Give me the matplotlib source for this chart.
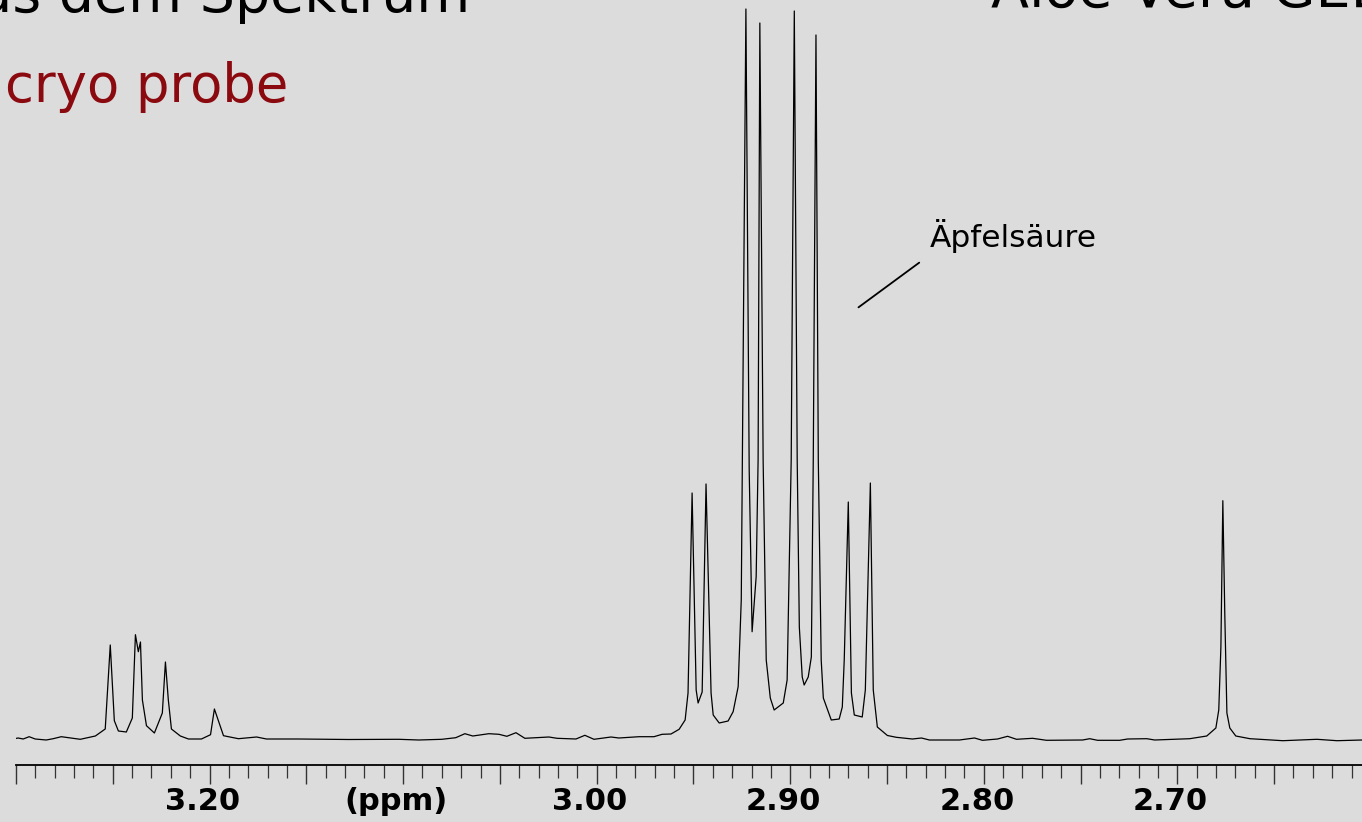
"""
1H NMR spectrum of Aloe Vera gel (cryo probe), detail 2.6 - 3.3 ppm.
"""

import matplotlib
matplotlib.use("Agg")
import matplotlib.pyplot as plt
from matplotlib.transforms import ScaledTranslation

# Spectrum trace (chemical shift in ppm, intensity in arbitrary units)
shift_ppm = [
    3.3015, 3.2989, 3.2963, 3.2932, 3.2901, 3.2844, 3.2808, 3.2766, 3.2668, 3.2590,
    3.2539, 3.2513, 3.2492, 3.2471, 3.2430, 3.2399, 3.2383, 3.2368, 3.2357, 3.2347,
    3.2326, 3.2285, 3.2244, 3.2228, 3.2213, 3.2197, 3.2151, 3.2109, 3.2042, 3.1995,
    3.1975, 3.1928, 3.1851, 3.1757, 3.1706, 3.1540, 3.1281, 3.1023, 3.0919, 3.0800,
    3.0728, 3.0681, 3.0640, 3.0557, 3.0505, 3.0464, 3.0417, 3.0371, 3.0247, 3.0205,
    3.0107, 3.0061, 3.0014, 2.9926, 2.9885, 2.9781, 2.9704, 2.9662, 2.9616, 2.9574,
    2.9543, 2.9528, 2.9507, 2.9486, 2.9476, 2.9455, 2.9435, 2.9409, 2.9398, 2.9367,
    2.9321, 2.9295, 2.9269, 2.9253, 2.9229, 2.9212, 2.9197, 2.9176, 2.9166, 2.9157,
    2.9140, 2.9124, 2.9103, 2.9083, 2.9036, 2.9016, 2.8995, 2.8979, 2.8964, 2.8953,
    2.8938, 2.8928, 2.8907, 2.8891, 2.8881, 2.8867, 2.8855, 2.8840, 2.8829, 2.8788,
    2.8747, 2.8731, 2.8721, 2.8700, 2.8684, 2.8669, 2.8628, 2.8612, 2.8586, 2.8571,
    2.8550, 2.8498, 2.8452, 2.8369, 2.8322, 2.8281, 2.8126, 2.8048, 2.8007, 2.7929,
    2.7877, 2.7831, 2.7748, 2.7676, 2.7489, 2.7453, 2.7412, 2.7298, 2.7257, 2.7158,
    2.7117, 2.6936, 2.6848, 2.6801, 2.6786, 2.6775, 2.6765, 2.6755, 2.6744, 2.6729,
    2.6698, 2.6625, 2.6455, 2.6279, 2.6175, 2.6046,
]
intensity = [
    1.0, 2.0, 1.0, 3.3, 1.0, 0.0, 1.3, 3.3, 0.7, 4.0,
    11.0, 95.0, 19.3, 9.0, 8.0, 22.0, 105.3, 88.3, 98.0, 40.0,
    14.3, 7.0, 27.0, 78.0, 40.0, 11.0, 4.0, 1.0, 1.0, 5.3,
    31.0, 4.3, 1.3, 3.0, 1.0, 1.0, 0.5, 0.7, 0.0, 0.7,
    2.3, 6.3, 4.0, 6.3, 5.7, 3.7, 7.3, 1.7, 3.0, 1.7,
    1.0, 4.7, 0.7, 3.0, 2.0, 3.3, 3.3, 5.7, 6.0, 10.7,
    20.0, 47.0, 247.0, 50.0, 37.0, 48.0, 256.0, 47.0, 25.0, 17.0,
    19.0, 28.3, 53.3, 140.0, 731.0, 270.0, 108.3, 163.3, 280.0, 717.0,
    280.0, 80.0, 42.0, 30.0, 37.0, 60.0, 280.0, 729.0, 280.0, 113.0,
    63.0, 55.0, 63.0, 83.0, 280.0, 705.0, 280.0, 80.0, 42.0, 20.0,
    21.0, 33.0, 80.0, 238.0, 47.0, 25.0, 23.0, 50.0, 257.0, 50.0,
    13.0, 4.5, 2.7, 1.0, 2.0, 0.0, 0.0, 2.0, -0.3, 1.0,
    3.7, 0.7, 1.7, -0.3, 0.0, 1.3, -0.3, -0.3, 1.0, 1.3,
    0.0, 1.3, 4.0, 12.0, 30.0, 93.0, 239.3, 127.0, 27.0, 12.0,
    4.0, 1.3, -0.7, 0.7, -0.7, 0.0,
]

# Axis ticks
major_ticks = [3.30, 3.25, 3.20, 3.15, 3.10, 3.05, 3.00, 2.95,
               2.90, 2.85, 2.80, 2.75, 2.70, 2.65]
major_labels = ["", "", "3.20", "", "(ppm)", "", "3.00", "",
                "2.90", "", "2.80", "", "2.70", ""]
minor_ticks = [round(3.30 - 0.01 * i, 2) for i in range(70)]

BG = "#dcdcdc"
W, H = 1362, 822


def fx(px):
    return px / W


def fy(py):
    return 1 - py / H


fig = plt.figure(figsize=(W / 100, H / 100), dpi=100, facecolor=BG)
ax = fig.add_axes([fx(16), fy(765), 1 - fx(16), 765 / H])
ax.set_facecolor(BG)

ax.plot(shift_ppm, intensity, color="black", linewidth=0.9)

ax.set_xlim(3.30, 2.6046)
ax.set_ylim(-25, 740)

# Only the bottom axis line is shown
for side in ["top", "left", "right"]:
    ax.spines[side].set_visible(False)
ax.spines["bottom"].set_linewidth(1.3)
ax.set_yticks([])

ax.set_xticks(major_ticks)
ax.set_xticklabels(major_labels, fontsize=22, fontweight="bold")
ax.set_xticks(minor_ticks, minor=True)
ax.tick_params(axis="x", which="major", direction="out", length=14,
               width=1.0, color="#333333", pad=2)
ax.tick_params(axis="x", which="minor", direction="out", length=9,
               width=0.9, color="#333333")
shift = ScaledTranslation(-7 / 100, 0, fig.dpi_scale_trans)
for lbl in ax.get_xticklabels():
    lbl.set_transform(lbl.get_transform() + shift)

# Annotation for malic acid
ax.annotate("", xy=(2.8659, 431), xytext=(2.8322, 479),
            arrowprops=dict(arrowstyle="-", color="black", lw=1.3))
fig.text(fx(930), fy(247), "Äpfelsäure", fontsize=22.5, color="black",
         va="baseline", ha="left")

# Slide texts (partly cut at the figure edge)
fig.text(fx(470), fy(12), "Informationen aus dem Spektrum", fontsize=40,
         color="black", va="baseline", ha="right")
fig.text(fx(991), fy(7), "Aloe Vera GEL", fontsize=40,
         color="black", va="baseline", ha="left")
fig.text(fx(5), fy(102), "cryo probe", fontsize=38, color="#8b0a10",
         va="baseline", ha="left")

fig.savefig("out.png", dpi=100, facecolor=BG)
